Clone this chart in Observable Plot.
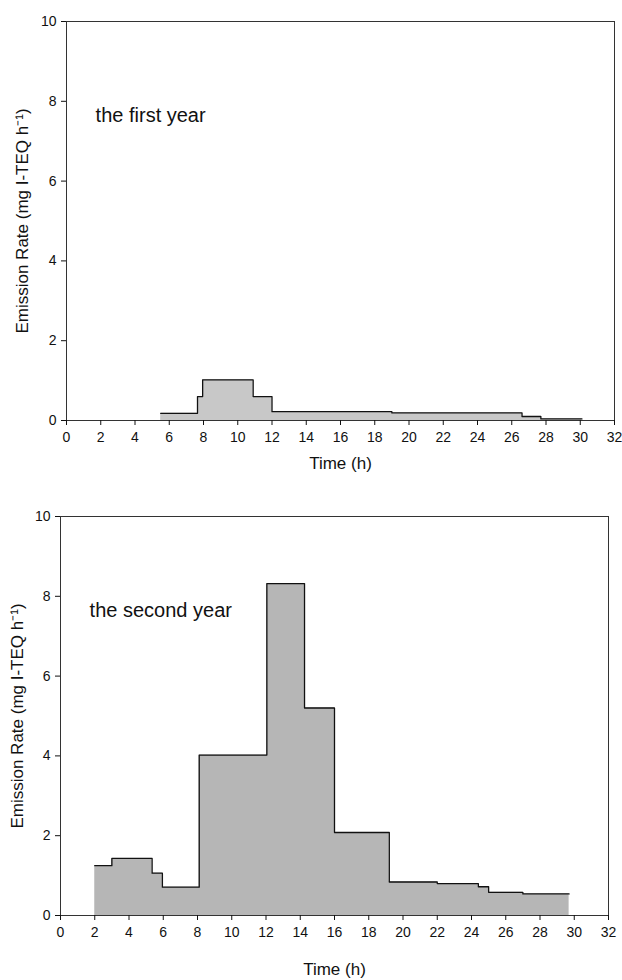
<!DOCTYPE html>
<html>
<head>
<meta charset="utf-8">
<script src="https://cdn.jsdelivr.net/npm/d3@7"></script>
<script src="https://cdn.jsdelivr.net/npm/@observablehq/plot@0.6"></script>
<style>
  body { margin: 0; background: #fff; }
  #chart svg { display: block; }
</style>
</head>
<body>
<div id="chart"></div>
<script>
// ---- data ----
const xTicks = [0, 2, 4, 6, 8, 10, 12, 14, 16, 18, 20, 22, 24, 26, 28, 30, 32];
const yTicks = [0, 2, 4, 6, 8, 10];
const xLabel = "Time (h)";
const yLabel = "Emission Rate (mg I-TEQ h\u207B\u00B9)";

// first year: step start times (h) and emission rates (last value closes the final step)
const year1Time = [5.5, 7.65, 7.95, 10.9, 12.0, 19.0, 26.6, 27.7, 30.1];
const year1Rate = [0.18, 0.6, 1.02, 0.6, 0.22, 0.19, 0.1, 0.04, 0.04];

// second year
const year2Time = [2.0, 3.0, 5.35, 5.95, 8.1, 12.05, 14.25, 16.0, 19.2, 22.0, 24.4, 25.0, 27.0, 29.7];
const year2Rate = [1.25, 1.43, 1.06, 0.71, 4.02, 8.32, 5.2, 2.08, 0.84, 0.8, 0.72, 0.58, 0.54, 0.54];

const panelTitles = ["the first year", "the second year"];

const FONT = "'Liberation Sans', Arial, sans-serif";

function panel(times, rates, title, fill, m) {
  const data = times.map((t, i) => ({t, v: rates[i]}));
  return Plot.plot({
    width: 622,
    height: m.height,
    marginLeft: m.left,
    marginRight: m.right,
    marginTop: m.top,
    marginBottom: m.bottom,
    style: {fontFamily: FONT, fontSize: "14px", color: "#111", background: "#fff"},
    x: {domain: [0, 32]},
    y: {domain: [0, 10]},
    marks: [
      Plot.areaY(data, {x: "t", y: "v", curve: "step-after", fill: fill}),
      Plot.lineY(data, {x: "t", y: "v", curve: "step-after", stroke: "#111", strokeWidth: 1.3}),
      Plot.frame({stroke: "#333", strokeWidth: 1}),
      Plot.axisX({ticks: xTicks, tickSize: 5, tickPadding: 7, tickFormat: d => d,
        label: null, fontSize: 14}),
      Plot.axisY({ticks: yTicks, tickSize: 5, tickPadding: 5, tickFormat: d => d,
        label: null, fontSize: 14}),
      // axis titles
      Plot.text([xLabel], {frameAnchor: "bottom", text: d => d, dy: m.xTitleDy,
        fontSize: 17, fill: "#111", textAnchor: "middle", lineAnchor: "middle"}),
      Plot.text([yLabel], {frameAnchor: "left", text: d => d, dx: m.yTitleDx, rotate: -90,
        fontSize: 17, fill: "#111", textAnchor: "middle", lineAnchor: "middle"}),
      // panel title
      Plot.text([title], {x: 1.7, y: 7.65, text: d => d, textAnchor: "start",
        fontSize: 20, fill: "#111"})
    ]
  });
}

const chart = document.getElementById("chart");
chart.append(panel(year1Time, year1Rate, panelTitles[0], "#c8c8c8",
  {height: 490, left: 66, right: 8, top: 21, bottom: 70, xTitleDy: 43, yTitleDx: -44}));
chart.append(panel(year2Time, year2Rate, panelTitles[1], "#b6b6b6",
  {height: 490, left: 60, right: 14, top: 26, bottom: 65, xTitleDy: 54, yTitleDx: -43}));
</script>
</body>
</html>
